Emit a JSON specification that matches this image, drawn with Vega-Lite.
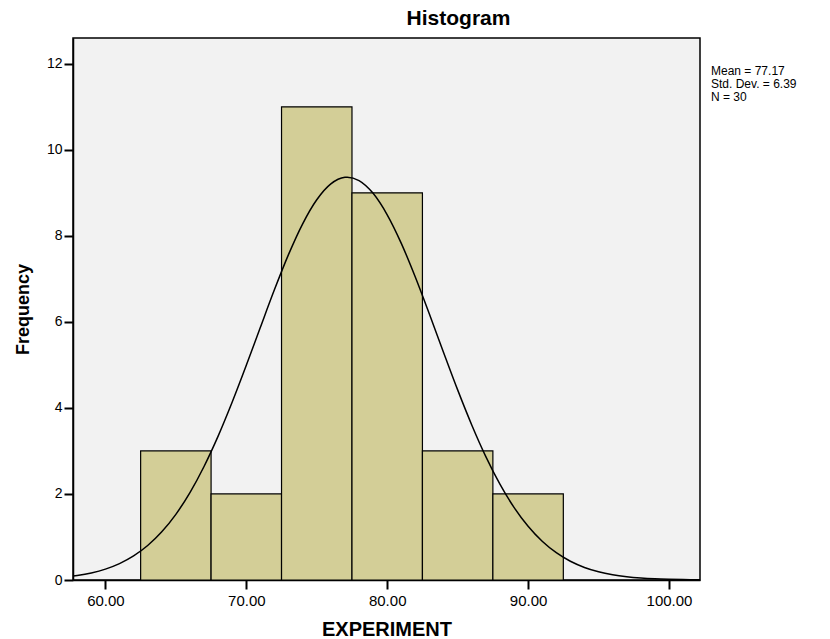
{
  "$schema": "https://vega.github.io/schema/vega-lite/v6.json",
  "width": 627,
  "height": 542,
  "autosize": {"type": "none"},
  "padding": {"left": 73, "top": 38, "right": 130, "bottom": 59},
  "background": "white",
  "title": {"text": "Histogram", "anchor": "middle", "frame": "group", "dx": 72, "font": "Liberation Sans", "fontWeight": "bold", "fontSize": 21, "offset": 9, "color": "black"},
  "config": {
    "view": {"fill": "#f2f2f2", "stroke": "black", "strokeWidth": 1.5},
    "axis": {"grid": false, "domainColor": "black", "domainWidth": 1.5, "tickColor": "black", "tickWidth": 2, "tickSize": 9, "labelColor": "black", "titleColor": "black", "labelFont": "Liberation Sans", "titleFont": "Liberation Sans", "titleFontWeight": "bold", "titleFontSize": 18}
  },
  "datasets": {
    "bins": [
      {"bin_start": 62.5, "bin_end": 67.5, "count": 3},
      {"bin_start": 67.5, "bin_end": 72.5, "count": 2},
      {"bin_start": 72.5, "bin_end": 77.5, "count": 11},
      {"bin_start": 77.5, "bin_end": 82.5, "count": 9},
      {"bin_start": 82.5, "bin_end": 87.5, "count": 3},
      {"bin_start": 87.5, "bin_end": 92.5, "count": 2}
    ],
    "curve": [
      {"x": 57.7, "y": 0.090}, {"x": 58, "y": 0.104}, {"x": 59, "y": 0.164}, {"x": 60, "y": 0.253},
      {"x": 61, "y": 0.381}, {"x": 62, "y": 0.559}, {"x": 63, "y": 0.801}, {"x": 64, "y": 1.120},
      {"x": 65, "y": 1.527}, {"x": 66, "y": 2.032}, {"x": 67, "y": 2.639}, {"x": 68, "y": 3.344},
      {"x": 69, "y": 4.136}, {"x": 70, "y": 4.990}, {"x": 71, "y": 5.876}, {"x": 72, "y": 6.751},
      {"x": 73, "y": 7.569}, {"x": 74, "y": 8.281}, {"x": 75, "y": 8.840}, {"x": 76, "y": 9.209},
      {"x": 77, "y": 9.362}, {"x": 77.17, "y": 9.365}, {"x": 78, "y": 9.286}, {"x": 79, "y": 8.989},
      {"x": 80, "y": 8.490}, {"x": 81, "y": 7.826}, {"x": 82, "y": 7.038}, {"x": 83, "y": 6.177},
      {"x": 84, "y": 5.290}, {"x": 85, "y": 4.420}, {"x": 86, "y": 3.605}, {"x": 87, "y": 2.868},
      {"x": 88, "y": 2.227}, {"x": 89, "y": 1.688}, {"x": 90, "y": 1.248}, {"x": 91, "y": 0.900},
      {"x": 92, "y": 0.634}, {"x": 93, "y": 0.435}, {"x": 94, "y": 0.292}, {"x": 95, "y": 0.191},
      {"x": 96, "y": 0.122}, {"x": 97, "y": 0.076}, {"x": 98, "y": 0.046}, {"x": 99, "y": 0.027},
      {"x": 100, "y": 0.016}, {"x": 101, "y": 0.009}, {"x": 102, "y": 0.005}, {"x": 102.2, "y": 0.004}
    ],
    "stats": [
      {"label": "Mean = 77.17\nStd. Dev. = 6.39\nN = 30", "xpos": 102.2, "ypos": 11.95}
    ]
  },
  "layer": [
    {
      "data": {"name": "bins"},
      "mark": {"type": "rect", "fill": "#d3ce97", "stroke": "black", "strokeWidth": 1.2},
      "encoding": {
        "x": {"field": "bin_start", "type": "quantitative",
              "scale": {"domain": [57.7, 102.2], "nice": false, "zero": false},
              "axis": {"values": [60, 70, 80, 90, 100], "format": ".2f", "labelFontSize": 15, "labelPadding": 4, "title": "EXPERIMENT", "titlePadding": 11, "titleFontSize": 20}},
        "x2": {"field": "bin_end"},
        "y": {"field": "count", "type": "quantitative",
              "scale": {"domain": [0, 12.6], "nice": false},
              "axis": {"values": [0, 2, 4, 6, 8, 10, 12], "labelFontSize": 14, "labelPadding": 2, "title": "Frequency", "titlePadding": 14}},
        "y2": {"datum": 0}
      }
    },
    {
      "data": {"name": "curve"},
      "mark": {"type": "line", "color": "black", "strokeWidth": 1.5, "interpolate": "monotone"},
      "encoding": {
        "x": {"field": "x", "type": "quantitative"},
        "y": {"field": "y", "type": "quantitative"}
      }
    },
    {
      "data": {"name": "stats"},
      "mark": {"type": "text", "align": "left", "baseline": "top", "dx": 11, "font": "Liberation Sans", "fontSize": 12, "lineHeight": 13, "lineBreak": "\n", "color": "black", "clip": false},
      "encoding": {
        "x": {"field": "xpos", "type": "quantitative"},
        "y": {"field": "ypos", "type": "quantitative"},
        "text": {"field": "label"}
      }
    }
  ]
}
